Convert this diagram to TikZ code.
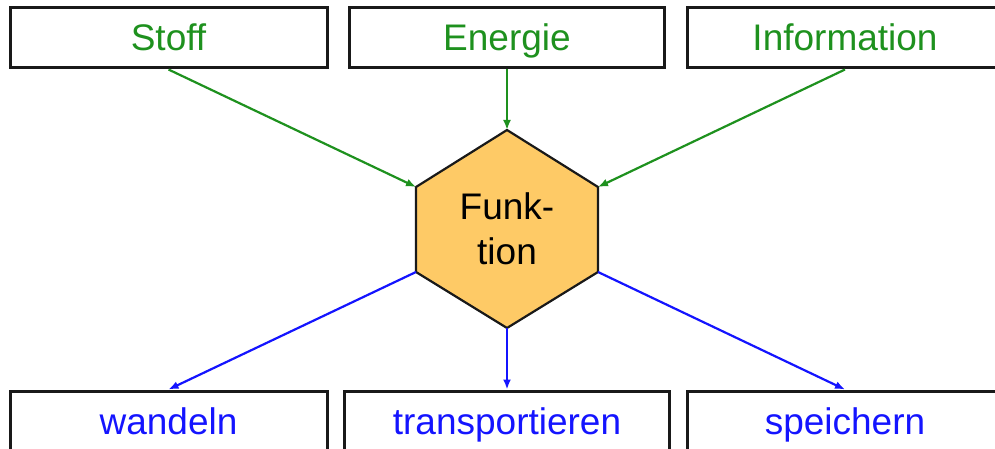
\documentclass[tikz,border=0pt]{standalone}
\usepackage{fontspec}
\setmainfont{Liberation Sans}
\usetikzlibrary{arrows.meta}
\definecolor{dgreen}{RGB}{30,145,30}
\definecolor{dblue}{RGB}{20,20,255}
\definecolor{hexfill}{RGB}{254,202,102}
\newcommand{\ytop}{410}
\newcommand{\ybot}{27}
% box: name, x, y, width, colour, text
\newcommand{\kasten}[6]{
\node[kasten, minimum width=#4pt, text=#5] (#1) at (#2,#3) {#6};
}
\tikzset{
  kasten/.style={draw=black!90, line width=3pt, minimum height=60pt,
                 inner sep=0pt, text height=26pt, text depth=0pt,
                 font=\fontsize{37}{44}\selectfont},
  zu/.style={draw=dgreen, line width=2.2pt, -{Latex[length=10pt,width=8pt]}},
  ab/.style={draw=dblue, line width=2.2pt, -{Latex[length=10pt,width=8pt]}},
}

\begin{document}
\begin{tikzpicture}[x=1pt,y=1pt]
\useasboundingbox (0,0) rectangle (995,448);

% inputs
\kasten{stoff}{168.5}{\ytop}{317}{dgreen}{Stoff}
\kasten{energie}{507}{\ytop}{315}{dgreen}{Energie}
\kasten{info}{845}{\ytop}{316}{dgreen}{Information}

% hexagon
\coordinate (ho) at (507,318);
\coordinate (hor) at (598,261);
\coordinate (hur) at (598,176);
\coordinate (hu) at (507,120);
\coordinate (hul) at (416,176);
\coordinate (hol) at (416,261);
\filldraw[fill=hexfill, draw=black!90, line width=2.2pt, line join=round]
  (ho) -- (hor) -- (hur) -- (hu) -- (hul) -- (hol) -- cycle;
\node[align=center, font=\fontsize{37}{45}\selectfont] (fn) at (507,219) {Funk-\\tion};

% outputs
\kasten{wandeln}{168.5}{\ybot}{317}{dblue}{wandeln}
\kasten{transp}{507}{\ybot}{325}{dblue}{transportieren}
\kasten{speichern}{845}{\ybot}{316}{dblue}{speichern}

% arrows in
\draw[zu] (stoff.south) -- (hol);
\draw[zu] (energie.south) -- (ho);
\draw[zu] (info.south) -- (hor);

% arrows out
\draw[ab] (hul) -- (wandeln.north);
\draw[ab] (hu) -- (transp.north);
\draw[ab] (hur) -- (speichern.north);
\end{tikzpicture}
\end{document}
